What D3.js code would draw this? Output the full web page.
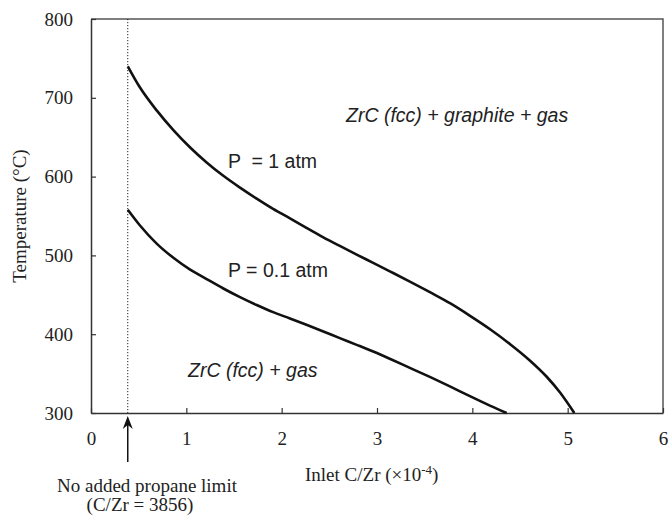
<!DOCTYPE html>
<html>
<head>
<meta charset="utf-8">
<script src="https://cdn.jsdelivr.net/npm/d3@7/dist/d3.min.js"></script>
<style>
  body { margin: 0; background: #fff; }
  .serif { font-family: "Liberation Serif", "Times New Roman", serif; fill: #222; }
  .sans { font-family: "Liberation Sans", Arial, sans-serif; fill: #222; }
</style>
</head>
<body>
<svg class="chart"></svg>
<script>
// data
var xTicks = [0, 1, 2, 3, 4, 5, 6];
var yTicks = [300, 400, 500, 600, 700, 800];
var limitX = 0.3856; // no added propane limit, C/Zr = 3856

// P = 1 atm boundary
var p1X = [0.386, 0.514, 0.689, 0.864, 1.04, 1.213, 1.388, 1.563, 1.738, 1.91, 2.087, 2.26, 2.437, 2.61, 2.787, 2.96, 3.14, 3.35, 3.56, 3.77, 3.98, 4.19, 4.40, 4.60, 4.78, 4.92, 5.07];
var p1T = [740, 713, 684, 659, 637, 618, 601, 586, 572, 559, 547, 535, 523, 512, 501, 490.5, 479.5, 466.5, 453, 439, 423, 406, 387, 367, 346, 326, 300];

// P = 0.1 atm boundary
var p01X = [0.386, 0.514, 0.689, 0.864, 1.04, 1.213, 1.388, 1.563, 1.738, 1.91, 2.087, 2.26, 2.437, 2.61, 2.787, 2.96, 3.14, 3.35, 3.56, 3.77, 3.98, 4.19, 4.36];
var p01T = [558, 538, 515, 497, 482, 470, 458, 447, 437, 428, 420, 412, 403.5, 395, 386.5, 378, 368.5, 357, 345.5, 333.5, 321, 309, 300];

var width = 670, height = 518;
var margin = {top: 19, right: 7, bottom: 105, left: 91};
var chartWidth = width - margin.left - margin.right;
var chartHeight = height - margin.top - margin.bottom;

var svg = d3.select('.chart').attr("width", width).attr("height", height);
var chart = svg.append("g").attr("transform", "translate(" + margin.left + "," + margin.top + ")");

var x = d3.scaleLinear().domain([0, 6]).range([0, chartWidth]);
var y = d3.scaleLinear().domain([300, 800]).range([chartHeight, 0]);

// frame (top and right)
chart.append("path")
  .attr("d", "M0,0H" + chartWidth + "V" + chartHeight)
  .attr("fill", "none")
  .attr("stroke", "#555")
  .attr("stroke-width", 1.5);

// x axis
var xAxis = chart.append("g")
  .attr("transform", "translate(0," + chartHeight + ")")
  .call(d3.axisBottom(x).tickValues(xTicks).tickFormat(d3.format("d")).tickSize(-5).tickPadding(19).tickSizeOuter(0));

// y axis
var yAxis = chart.append("g")
  .call(d3.axisLeft(y).tickValues(yTicks).tickSize(-5).tickPadding(18).tickSizeOuter(0));

[xAxis, yAxis].forEach(function(a) {
  a.select(".domain").attr("stroke", "#333").attr("stroke-width", 1.5);
  a.selectAll(".tick line").attr("stroke", "#333").attr("stroke-width", 1.2);
  a.selectAll(".tick text").attr("class", "serif").style("font-size", "19px").attr("fill", "#222");
});

// dotted limit line
chart.append("line")
  .attr("x1", x(limitX)).attr("x2", x(limitX))
  .attr("y1", 0).attr("y2", chartHeight)
  .attr("stroke", "#222")
  .attr("stroke-width", 1)
  .attr("stroke-dasharray", "1.2,1.8");

// curves
var line = d3.line()
  .x(function(d) { return x(d[0]); })
  .y(function(d) { return y(d[1]); })
  .curve(d3.curveMonotoneX);

[[p1X, p1T], [p01X, p01T]].forEach(function(s) {
  chart.append("path")
    .datum(d3.zip(s[0], s[1]))
    .attr("d", line)
    .attr("fill", "none")
    .attr("stroke", "#111")
    .attr("stroke-width", 2.6);
});

// region / curve labels
function label(txt, px, py) {
  return chart.append("text").attr("class", "sans")
    .attr("x", px).attr("y", py)
    .style("font-size", "19.5px")
    .text(txt);
}
label("ZrC (fcc) + graphite + gas", 346 - margin.left, 122 - margin.top).style("font-style", "italic");
label("P  = 1 atm", 228 - margin.left, 168 - margin.top).style("white-space", "pre");
label("P = 0.1 atm", 228 - margin.left, 277 - margin.top);
label("ZrC (fcc) + gas", 188 - margin.left, 377 - margin.top).style("font-style", "italic");

// axis titles
svg.append("text").attr("class", "serif")
  .attr("transform", "translate(26," + (margin.top + chartHeight / 2) + ") rotate(-90)")
  .style("text-anchor", "middle")
  .style("font-size", "19px")
  .text("Temperature (°C)");

var xt = svg.append("text").attr("class", "serif")
  .attr("x", 305).attr("y", 481)
  .style("font-size", "19px");
xt.append("tspan").text("Inlet C/Zr (×10");
xt.append("tspan").attr("dy", -7).style("font-size", "13px").text("-4");
xt.append("tspan").attr("dy", 7).text(")");

// arrow and note for the propane limit
var ax = margin.left + x(limitX);
svg.append("line")
  .attr("x1", ax).attr("x2", ax)
  .attr("y1", 462).attr("y2", 422)
  .attr("stroke", "#111").attr("stroke-width", 1.5);
svg.append("path")
  .attr("d", "M" + ax + ",416L" + (ax - 5) + ",429L" + ax + ",425L" + (ax + 5) + ",429Z")
  .attr("fill", "#111");

svg.append("text").attr("class", "serif")
  .attr("x", 147).attr("y", 492)
  .style("text-anchor", "middle").style("font-size", "19px")
  .text("No added propane limit");
svg.append("text").attr("class", "serif")
  .attr("x", 140).attr("y", 511)
  .style("text-anchor", "middle").style("font-size", "19px")
  .text("(C/Zr = 3856)");
</script>
</body>
</html>
